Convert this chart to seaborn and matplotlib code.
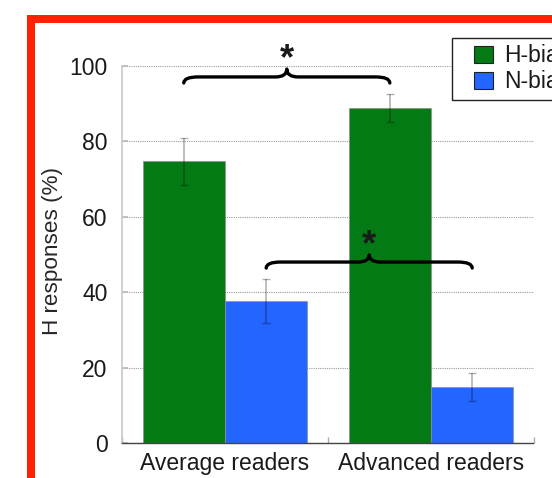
import numpy as np
import pandas as pd
import matplotlib
matplotlib.use("Agg")
import matplotlib.pyplot as plt
import seaborn as sns
from matplotlib.patches import Rectangle, PathPatch
from matplotlib.path import Path
from matplotlib.legend_handler import HandlerPatch

# Group labels, series and values (mean % of H responses with error)
groups = ["Average readers", "Advanced readers"]
series = ["H-biased", "N-biased"]
h_biased = [74.7, 88.8]
n_biased = [37.7, 14.9]
h_err = [6.3, 3.7]
n_err = [5.8, 3.8]
y_ticks = [0, 20, 40, 60, 80, 100]
colors = ["#037a13", "#2266ff"]

sns.set_theme(style="white")
plt.rcParams["font.family"] = ["Liberation Sans", "DejaVu Sans"]
plt.rcParams["text.color"] = "#1a1a1a"

df = pd.DataFrame({
    "group": groups * 2,
    "bias": [series[0]] * len(groups) + [series[1]] * len(groups),
    "value": h_biased + n_biased,
})
errors = [h_err, n_err]

fig = plt.figure(figsize=(5.52, 4.78), dpi=100)
ax = fig.add_axes([122 / 552, 1 - 443 / 478, 412 / 552, 377 / 478])

sns.barplot(data=df, x="group", y="value", hue="bias", order=groups,
            hue_order=series, palette=colors, errorbar=None, width=0.8,
            saturation=1, edgecolor=(0.55, 0.55, 0.55, 0.6), linewidth=0.8,
            legend=False, ax=ax, zorder=2)

# error bars on top of each bar
for container, err in zip(ax.containers, errors):
    xs = [b.get_x() + b.get_width() / 2 for b in container]
    ys = [b.get_height() for b in container]
    ax.errorbar(xs, ys, yerr=err, fmt="none", ecolor=(0, 0, 0, 0.3),
                elinewidth=1.2, capsize=3, capthick=1, zorder=3)

ax.set_xlim(-0.5, 1.5)
ax.set_ylim(0, 100)
ax.set_yticks(y_ticks)
ax.set_yticklabels([str(t) for t in y_ticks])
ax.yaxis.grid(True, linestyle=(0, (1, 1)), color="#9a9a9a", linewidth=0.8)
ax.xaxis.grid(False)
ax.set_axisbelow(True)

for s in ["top", "right"]:
    ax.spines[s].set_visible(False)
ax.spines["left"].set_color("#c8c8c8")
ax.spines["left"].set_linewidth(1.2)
ax.spines["bottom"].set_color("#444444")
ax.spines["bottom"].set_linewidth(1.0)
ax.spines["bottom"].set_linestyle((0, (2, 1)))

ax.tick_params(axis="y", direction="in", length=4, color="#bbbbbb",
               pad=10.5, labelsize=16.5, labelcolor="#1a1a1a", left=True)
ax.tick_params(axis="x", which="major", length=0, pad=6.5, labelsize=16.5,
               labelcolor="#1a1a1a", bottom=True)
ax.set_xticks([-0.5, 0.5, 1.5], minor=True)
ax.tick_params(axis="x", which="minor", direction="in", length=4,
               color="#aaaaaa", bottom=True)

ax.set_xlabel("")
ax.set_ylabel("H responses (%)", fontsize=16.2, va="center")
ax.yaxis.set_label_coords(-0.1675, 0.508)


def brace(ax, x0, x1, y_end, y_mid, y_tip, curl=0.07, notch=0.055):
    xm = (x0 + x1) / 2
    verts = [(x0, y_end), (x0, y_mid), (x0 + curl, y_mid),
             (xm - notch, y_mid), (xm, y_mid), (xm, y_tip),
             (xm, y_mid), (xm + notch, y_mid),
             (x1 - curl, y_mid), (x1, y_mid), (x1, y_end)]
    codes = [Path.MOVETO, Path.CURVE3, Path.CURVE3, Path.LINETO,
             Path.CURVE3, Path.CURVE3, Path.CURVE3, Path.CURVE3,
             Path.LINETO, Path.CURVE3, Path.CURVE3]
    ax.add_patch(PathPatch(Path(verts, codes), fill=False, edgecolor="black",
                           linewidth=2.4, capstyle="round", joinstyle="round",
                           clip_on=False, zorder=5))
    return xm


h_bars, n_bars = ax.containers[0], ax.containers[1]
cx = lambda b: b.get_x() + b.get_width() / 2

xm = brace(ax, cx(h_bars[0]), cx(h_bars[1]), 95.5, 97.1, 99.2)
ax.text(xm, 101.8, "*", fontsize=26, fontweight="bold", ha="center",
        va="center", clip_on=False, zorder=6)
xm = brace(ax, cx(n_bars[0]), cx(n_bars[1]), 46.4, 48.0, 49.9)
ax.text(xm, 52.4, "*", fontsize=26, fontweight="bold", ha="center",
        va="center", clip_on=False, zorder=6)


def square(legend, orig_handle, xdescent, ydescent, width, height, fontsize):
    w, h = 19 * 0.72, 17 * 0.72
    return Rectangle((-xdescent + width - w, -ydescent + (height - h) / 2), w, h)


handles = [Rectangle((0, 0), 1, 1, facecolor=c, edgecolor="#222222",
                     linewidth=0.8) for c in colors]
leg = ax.legend(handles, series, loc="upper left",
                bbox_to_anchor=(452 / 552, 1 - 38 / 478),
                bbox_transform=fig.transFigure, fontsize=16.5, frameon=True,
                fancybox=False, edgecolor="#222222", framealpha=1,
                borderpad=0.28, labelspacing=0.12, handlelength=1.5,
                handleheight=0.7, handletextpad=0.5, borderaxespad=0,
                handler_map={Rectangle: HandlerPatch(patch_func=square)})
leg.get_frame().set_linewidth(1.0)
leg.set_zorder(10)

# red frame around the figure content
fig.patches.append(Rectangle((31 / 552, -0.5), 2, 0.5 + 1 - 19 / 478,
                             transform=fig.transFigure, fill=False,
                             edgecolor="#ff2200", linewidth=8 * 0.72))

fig.savefig("out.png", dpi=100)
